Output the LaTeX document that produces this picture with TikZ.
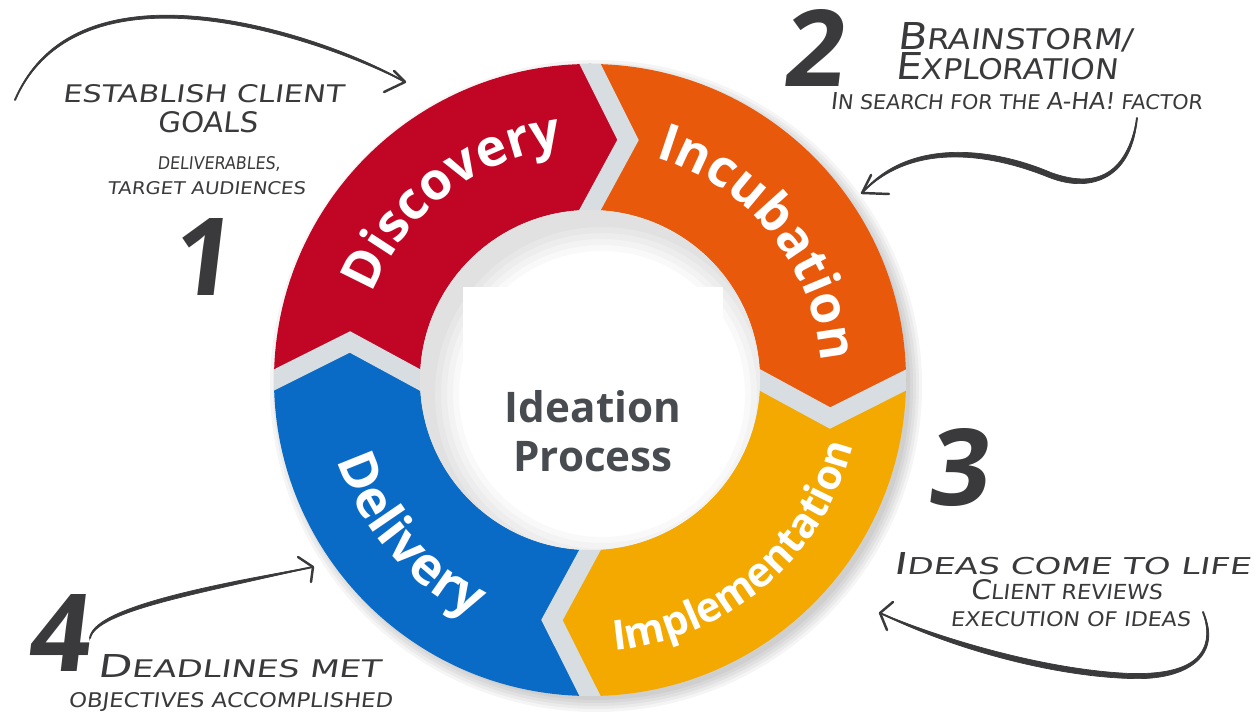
\documentclass[tikz,border=0pt]{standalone}
\usepackage{fontspec}
\usepackage{graphicx}
\setmainfont{Open Sans}
\newfontfamily\ringfont{Open Sans}
\newfontfamily\handfont[FakeSlant=0.12,FakeStretch=1.1]{DejaVu Sans}
\newfontfamily\numfont[FakeSlant=0.12]{Open Sans}
\usetikzlibrary{decorations.text,calc}

\definecolor{cDisc}{RGB}{192,6,36}
\definecolor{cIncu}{RGB}{232,89,12}
\definecolor{cImpl}{RGB}{243,169,0}
\definecolor{cDeli}{RGB}{10,107,198}
\definecolor{gapc}{RGB}{216,221,226}
\definecolor{ink}{RGB}{58,58,60}
\definecolor{ctext}{RGB}{72,76,80}

\newcommand\ringlab{\ringfont\bfseries\fontsize{29.5}{32}\selectfont\color{white}}
\newcommand\ringlabsm{\ringfont\bfseries\fontsize{23.5}{26}\selectfont\color{white}}
\newcommand\hw[3]{\resizebox{#1}{#2}{\handfont #3}}
\newcommand\bigch[1]{{\fontsize{13}{13}\selectfont #1}}
\newcommand\midch[1]{{\fontsize{11.5}{11.5}\selectfont #1}}
\newcommand\hnum[1]{\resizebox{!}{1.54cm}{\numfont\bfseries #1}}
\newcommand\ringseg[3]{%
  \fill[#3] ($(C)+(#1:\Ro)$) arc[start angle=#1,end angle=#2,radius=\Ro]
    -- ($(C)+(#2+\dl:\Rm)$) -- ($(C)+(#2:\Ri)$)
    arc[start angle=#2,end angle=#1,radius=\Ri]
    -- ($(C)+(#1+\dl:\Rm)$) -- cycle;}

\tikzset{
  hand/.style={inner sep=0pt, anchor=base west, text=ink},
  numeral/.style={inner sep=0pt, text=ink},
  centertxt/.style={inner sep=0pt, anchor=base, text=ctext,
    font=\ringfont\bfseries\fontsize{24}{26}\selectfont},
  brush/.style={fill=ink, draw=ink, line width=0.4pt},
  spine/.style={draw=ink, line width=1.1pt, line cap=round},
  head/.style={draw=ink, line width=1.4pt, line cap=round, line join=round},
  gapline/.style={draw=gapc, line width=0.38cm, line join=miter},
}

\begin{document}
\begin{tikzpicture}[x=0.02cm,y=-0.02cm]
\useasboundingbox (0,0) rectangle (1255,715);
\fill[white] (0,0) rectangle (1255,715);
\coordinate (C) at (590,380);
\def\Ro{316}\def\Ri{170}\def\Rm{243}\def\dl{9}

% soft outer shadow
\foreach \r in {326,323,320,317,314}
  \fill[black,opacity=0.04] ($(C)+(6,6)$) circle[radius=\r];

% ring segments
\ringseg{180}{270}{cDisc}
\ringseg{270}{360}{cIncu}
\ringseg{0}{90}{cImpl}
\ringseg{90}{180}{cDeli}

% gaps
\begin{scope}
  \clip (C) circle[radius=\Ro];
  \foreach \a in {0,90,180,270} {
    \coordinate (t) at ($(C)+(\a+\dl:\Rm)$);
    \coordinate (o) at ($(C)+(\a:\Ro)$);
    \coordinate (i) at ($(C)+(\a:\Ri)$);
    \draw[gapline] ($(t)!1.5!(o)$) -- (t) -- ($(t)!1.5!(i)$);
  }
\end{scope}

% hole with a light inner shadow
\fill[white] (C) circle[radius=\Ri];
\begin{scope}
  \clip (C) circle[radius=\Ri];
  \foreach \r in {167,161,155,149,143}
    \fill[black,opacity=0.025,even odd rule] (C) circle[radius=200] ($(C)+(12,14)$) circle[radius=\r];
\end{scope}
\fill[white] (463,287) rectangle (723,372);

% ring labels
\path[decorate, decoration={text along path, text={|\ringlab|Discovery}, text align=center}]
  ($(C)+(172.5:234)$) arc[start angle=172.5, end angle=292.5, radius=234];
\path[decorate, decoration={text along path, text={|\ringlab|Incubation}, text align=center}]
  ($(C)+(261:232)$) arc[start angle=261, end angle=381, radius=232];
\path[decorate, decoration={text along path, text={|\ringlabsm|Implementation}, text align=center}]
  ($(C)+(114.4:271)$) arc[start angle=114.4, end angle=-15.6, radius=271];
\path[decorate, decoration={text along path, text={|\ringlab|Delivery}, text align=center}]
  ($(C)+(189.2:265)$) arc[start angle=189.2, end angle=89.2, radius=265];

% centre text
\node[centertxt] (ideation) at (593,423) {Ideation};
\node[centertxt] (process) at (593,472) {Process};

% numerals
\node[numeral] (n1) at (200,257) {\hnum{1}};
\node[numeral] (n2) at (812,48) {\hnum{2}};
\node[numeral] (n3) at (957,468) {\hnum{3}};
\node[numeral] (n4) at (57,633) {\hnum{4}};

% handwritten notes
\node[hand] (b1a) at (62,103) {\hw{5.62cm}{0.36cm}{ESTABLISH CLIENT}};
\node[hand] (b1b) at (157,133) {\hw{2.0cm}{0.42cm}{GOALS}};
\node[hand] (b1c) at (157,170) {\hw{2.46cm}{0.26cm}{DELIVERABLES,}};
\node[hand] (b1d) at (107,195) {\hw{3.96cm}{0.26cm}{TARGET AUDIENCES}};

\node[hand] (b2a) at (897,50) {\hw{4.7cm}{0.54cm}{\bigch{B}RAINSTORM/}};
\node[hand] (b2b) at (895,80) {\hw{4.44cm}{0.54cm}{\bigch{E}XPLORATION}};
\node[hand] (b2c) at (830,110) {\hw{7.44cm}{0.34cm}{\midch{I}N SEARCH FOR THE \midch{A-HA!} FACTOR}};

\node[hand] (b3a) at (893,575) {\hw{7.14cm}{0.44cm}{\bigch{I}DEAS COME TO LIFE}};
\node[hand] (b3b) at (970,600) {\hw{3.84cm}{0.40cm}{\bigch{C}LIENT REVIEWS}};
\node[hand] (b3c) at (950,627) {\hw{4.8cm}{0.30cm}{EXECUTION OF IDEAS}};

\node[hand] (b4a) at (97,678) {\hw{5.66cm}{0.46cm}{\bigch{D}EADLINES MET}};
\node[hand] (b4b) at (68,708) {\hw{6.48cm}{0.30cm}{OBJECTIVES ACCOMPLISHED}};

% arrow 1
\coordinate (a1s) at (15,100);
\coordinate (a1e) at (405,82);
\path[brush] (a1s) .. controls (76.8,-51.4) and (331.7,37) .. (a1e)
  .. controls (328.3,43) and (83.2,-48.6) .. (a1s) -- cycle;
\draw[spine] (a1s) .. controls (80,-50) and (330,40) .. (a1e);
\draw[head] ($(a1e)+(-11,-11)$) -- (a1e) -- ($(a1e)+(-21,10)$);

% arrow 2
\coordinate (a2s) at (1137,118);
\coordinate (a2m) at (1050,175);
\coordinate (a2e) at (862,193);
\path[brush] (a2s) .. controls (1126.75,174.6) and (1096.2,188.95) .. (1051.05,172.6)
  .. controls (991.3,147) and (907.6,137.8) .. (a2e)
  .. controls (912.4,142.2) and (988.7,153) .. (1048.95,177.4)
  .. controls (1093.8,195.05) and (1133.25,175.4) .. (a2s) -- cycle;
\draw[spine] (a2s) .. controls (1130,175) and (1095,192) .. (a2m)
  .. controls (990,150) and (910,140) .. (a2e);
\draw[head] ($(a2e)+(9,-18)$) -- (a2e) -- ($(a2e)+(27,1)$);

% arrow 3
\coordinate (a3s) at (1203,612);
\coordinate (a3m) at (1130,676);
\coordinate (a3e) at (880,613);
\path[brush] (a3s) .. controls (1217.2,656.1) and (1190.1,675) .. (1130.1,673.5)
  .. controls (1050.1,670) and (951.3,642.3) .. (a3e)
  .. controls (948.7,647.7) and (1049.9,676) .. (1129.9,678.5)
  .. controls (1189.9,681) and (1222.8,653.9) .. (a3s) -- cycle;
\draw[spine] (a3s) .. controls (1220,655) and (1190,678) .. (a3m)
  .. controls (1050,673) and (950,645) .. (a3e);
\draw[head] ($(a3e)+(13,-11)$) -- (a3e) -- ($(a3e)+(7,17)$);

% arrow 4
\coordinate (a4s) at (90,638);
\coordinate (a4e) at (313,567);
\path[brush] (a4s) .. controls (98.4,610.6) and (200.7,593.4) .. (a4e)
  .. controls (199.3,586.6) and (91.6,609.4) .. (a4s) -- cycle;
\draw[spine] (a4s) .. controls (95,610) and (200,590) .. (a4e);
\draw[head] ($(a4e)+(-15,-10)$) -- (a4e) -- ($(a4e)+(-2,15)$);
\end{tikzpicture}
\end{document}
